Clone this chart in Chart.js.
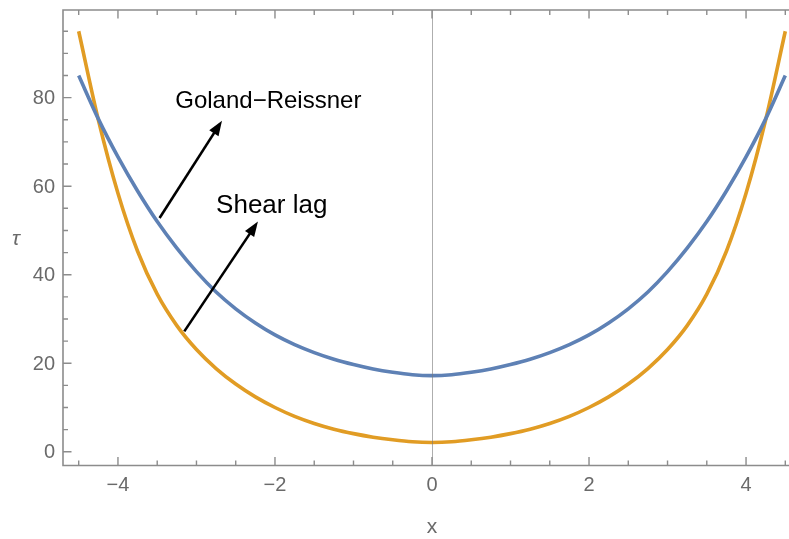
<!DOCTYPE html>
<html>
<head>
<meta charset="utf-8">
<script src="https://cdn.jsdelivr.net/npm/chart.js@4"></script>
<style>
    html, body { margin: 0; padding: 0; background: #fff; overflow: hidden; }
    #wrap { width: 789px; height: 539px; overflow: hidden; position: relative; }
    #myChart { position: absolute; left: 0; top: 0; }
</style>
</head>
<body>
<div id="wrap"><canvas id="myChart" width="820" height="539"></canvas></div>
<script>
// sample positions along x
const xValues = [-4.5, -4.25, -4, -3.75, -3.5, -3.25, -3, -2.75, -2.5, -2.25, -2, -1.75, -1.5, -1.25, -1, -0.75, -0.5, -0.25,
    0, 0.25, 0.5, 0.75, 1, 1.25, 1.5, 1.75, 2, 2.25, 2.5, 2.75, 3, 3.25, 3.5, 3.75, 4, 4.25, 4.5];

// shear stress, Goland-Reissner solution
const golandReissner = [85, 75.2, 66.6, 58.9, 52.0, 46.0, 40.7, 36.1, 32.3, 29.1, 26.4, 24.2, 22.4, 20.9, 19.7, 18.7, 17.95, 17.4,
    17.2, 17.4, 17.95, 18.7, 19.7, 20.9, 22.4, 24.2, 26.4, 29.1, 32.3, 36.1, 40.7, 46.0, 52.0, 58.9, 66.6, 75.2, 85];

// shear stress, shear lag model
const shearLag = [95, 75.0, 58.4, 45.3, 35.6, 28.5, 23.1, 18.8, 15.3, 12.4, 10.0, 8.0, 6.4, 5.1, 4.1, 3.3, 2.7, 2.25,
    2.1, 2.25, 2.7, 3.3, 4.1, 5.1, 6.4, 8.0, 10.0, 12.4, 15.3, 18.8, 23.1, 28.5, 35.6, 45.3, 58.4, 75.0, 95];

const xTicks = [-4, -2, 0, 2, 4];
const xMinorTicks = [-4.5, -3.5, -3, -2.5, -1.5, -1, -0.5, 0.5, 1, 1.5, 2.5, 3, 3.5, 4.5];
const yTicks = [0, 20, 40, 60, 80];
const yMinorTicks = [5, 10, 15, 25, 30, 35, 45, 50, 55, 65, 70, 75, 85, 90, 95];

// text labels with arrows, in data units
const labels = [
    { text: 'Goland\u2212Reissner', x: -3.27, y: 77.7, size: 24, from: [-3.47, 52.8], to: [-2.675, 74.8] },
    { text: 'Shear lag', x: -2.75, y: 54.0, size: 26, from: [-3.155, 27.2], to: [-2.217, 52.0] }
];

const frameColor = '#8c8c8c';
const tickTextColor = '#6a6a6a';
const fontName = '"Liberation Sans", Arial, sans-serif';

function puntos(valores) {
    return xValues.map((x, i) => ({ x: x, y: valores[i] }));
}

function fmt(v) {
    return v < 0 ? '\u2212' + Math.abs(v) : String(v);
}

// frame (left, top, bottom), ticks and axis titles
const framePlugin = {
    id: 'frame',
    afterDatasetsDraw(chart) {
        const ctx = chart.ctx;
        const a = chart.chartArea;
        const sx = chart.scales.x;
        const sy = chart.scales.y;
        ctx.save();

        // vertical axis at x = 0
        ctx.strokeStyle = 'rgba(120,120,120,0.6)';
        ctx.lineWidth = 1;
        const x0 = Math.round(sx.getPixelForValue(0)) + 0.5;
        ctx.beginPath();
        ctx.moveTo(x0, a.top);
        ctx.lineTo(x0, a.bottom);
        ctx.stroke();

        ctx.strokeStyle = frameColor;
        ctx.lineWidth = 1.6;
        ctx.beginPath();
        ctx.moveTo(a.right + 5, a.top);
        ctx.lineTo(a.left, a.top);
        ctx.lineTo(a.left, a.bottom);
        ctx.lineTo(a.right + 5, a.bottom);
        ctx.stroke();

        ctx.lineWidth = 1.4;
        ctx.beginPath();
        xTicks.concat(xMinorTicks).forEach(v => {
            const len = xTicks.includes(v) ? 8.5 : 5;
            const px = sx.getPixelForValue(v);
            ctx.moveTo(px, a.bottom);
            ctx.lineTo(px, a.bottom - len);
            ctx.moveTo(px, a.top);
            ctx.lineTo(px, a.top + len);
        });
        yTicks.concat(yMinorTicks).forEach(v => {
            const len = yTicks.includes(v) ? 8.5 : 5;
            const py = sy.getPixelForValue(v);
            ctx.moveTo(a.left, py);
            ctx.lineTo(a.left + len, py);
        });
        ctx.stroke();

        ctx.fillStyle = tickTextColor;
        ctx.font = '20px ' + fontName;
        ctx.textAlign = 'center';
        ctx.textBaseline = 'middle';
        xTicks.forEach(v => ctx.fillText(fmt(v), sx.getPixelForValue(v), a.bottom + 20));
        ctx.textAlign = 'right';
        yTicks.forEach(v => ctx.fillText(fmt(v), a.left - 8, sy.getPixelForValue(v) + 1));

        ctx.textAlign = 'center';
        ctx.font = '21px ' + fontName;
        ctx.fillText('x', sx.getPixelForValue(0), a.bottom + 62);
        ctx.font = 'italic 21px ' + fontName;
        ctx.fillText('\u03c4', 16, (a.top + a.bottom) / 2 + 1);
        ctx.restore();
    }
};

// labels and arrows pointing at the curves
const arrowPlugin = {
    id: 'arrows',
    afterDraw(chart) {
        const ctx = chart.ctx;
        const sx = chart.scales.x;
        const sy = chart.scales.y;
        ctx.save();
        labels.forEach(l => {
            ctx.fillStyle = '#000';
            ctx.font = l.size + 'px ' + fontName;
            ctx.textAlign = 'left';
            ctx.textBaseline = 'alphabetic';
            ctx.fillText(l.text, sx.getPixelForValue(l.x), sy.getPixelForValue(l.y));

            const x1 = sx.getPixelForValue(l.from[0]), y1 = sy.getPixelForValue(l.from[1]);
            const x2 = sx.getPixelForValue(l.to[0]), y2 = sy.getPixelForValue(l.to[1]);
            const ang = Math.atan2(y2 - y1, x2 - x1);
            const head = 15, half = 5.5;
            const bx = x2 - head * Math.cos(ang), by = y2 - head * Math.sin(ang);
            ctx.strokeStyle = '#000';
            ctx.lineWidth = 2.6;
            ctx.beginPath();
            ctx.moveTo(x1, y1);
            ctx.lineTo(bx + 2 * Math.cos(ang), by + 2 * Math.sin(ang));
            ctx.stroke();
            ctx.beginPath();
            ctx.moveTo(x2, y2);
            ctx.lineTo(bx + half * Math.sin(ang), by - half * Math.cos(ang));
            ctx.lineTo(bx - half * Math.sin(ang), by + half * Math.cos(ang));
            ctx.closePath();
            ctx.fill();
        });
        ctx.restore();
    }
};

const config = {
    type: 'line',
    data: {
        datasets: [{
            label: 'Goland-Reissner',
            data: puntos(golandReissner),
            borderColor: '#5e81b5',
            borderWidth: 3.6
        }, {
            label: 'Shear lag',
            data: puntos(shearLag),
            borderColor: '#e19c24',
            borderWidth: 3.6
        }]
    },
    options: {
        responsive: false,
        animation: false,
        devicePixelRatio: 1,
        layout: { padding: { left: 63, top: 10, right: 19, bottom: 73.5 } },
        elements: {
            point: { radius: 0 },
            line: { cubicInterpolationMode: 'monotone', fill: false }
        },
        plugins: { legend: { display: false }, tooltip: { enabled: false } },
        scales: {
            x: { type: 'linear', min: -4.7, max: 4.7, display: false },
            y: { type: 'linear', min: -3.1, max: 99.8, display: false }
        }
    },
    plugins: [framePlugin, arrowPlugin]
};

new Chart(document.getElementById('myChart'), config);
</script>
</body>
</html>
